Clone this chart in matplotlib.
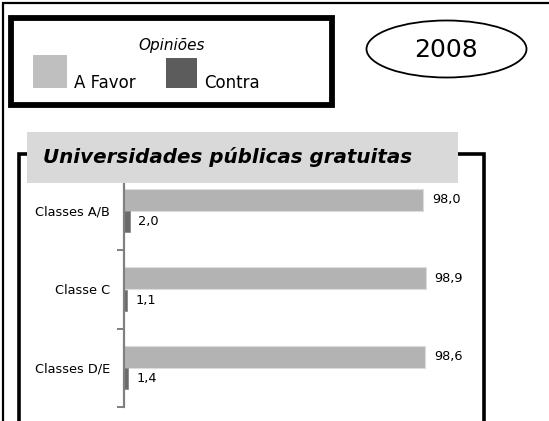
import matplotlib.pyplot as plt
from matplotlib.patches import Rectangle, Ellipse

# data
categories = ['Classes A/B', 'Classe C', 'Classes D/E']
a_favor = [98.0, 98.9, 98.6]
contra = [2.0, 1.1, 1.4]
year = '2008'
title = 'Universidades públicas gratuitas'

W, H = 549, 421
fig = plt.figure(figsize=(W / 100, H / 100), dpi=100)

# overlay in pixel coordinates for the frames / boxes
bg = fig.add_axes([0, 0, 1, 1])
bg.set_xlim(0, W)
bg.set_ylim(H, 0)
bg.axis('off')

# outer frame (left and top)
bg.plot([2.5, 2.5, W + 5], [H + 5, 2.5, 2.5], color='black', lw=1.6,
        solid_joinstyle='miter')

# legend box
bg.add_patch(Rectangle((11, 18), 321, 87, fill=False, ec='black', lw=4.2,
                       joinstyle='miter'))
bg.text(172, 45, 'Opiniões', fontsize=11, style='italic', ha='center', va='center')
bg.add_patch(Rectangle((33, 55), 34, 33, fc='#bfbfbf', ec='none'))
bg.text(74, 88, 'A Favor', fontsize=12, ha='left', va='baseline')
bg.add_patch(Rectangle((166, 58), 31, 30, fc='#5c5c5c', ec='none'))
bg.text(204, 88, 'Contra', fontsize=12, ha='left', va='baseline')

# year ellipse
bg.add_patch(Ellipse((446.5, 49), 160, 57, fill=False, ec='black', lw=1.3))
bg.text(446, 50, year, fontsize=18, ha='center', va='center')

# inner frame
bg.plot([18.5, 18.5, 483.5, 483.5], [H + 5, 154, 154, H + 5], color='black',
        lw=2.6, solid_joinstyle='miter')

# title band
bg.add_patch(Rectangle((27, 132), 431, 50.5, fc='#d9d9d9', ec='none', zorder=3))
bg.text(43, 157, title, fontsize=14.3, weight='bold', style='italic',
        ha='left', va='center', zorder=4)

# bar chart
ax = fig.add_axes([124 / W, 1 - 407 / H, 305 / W, (407 - 171.5) / H])
ax.set_zorder(-1)
y = list(range(len(categories)))
off = 0.14
ax.barh([v - off for v in y], a_favor, height=0.28, color='#b3b3b3',
        edgecolor='#dcdcdc', linewidth=0.8)
ax.barh([v + off for v in y], contra, height=0.27, color='#6b6b6b',
        edgecolor='#8a8a8a', linewidth=0.6)

for i, (f, c) in enumerate(zip(a_favor, contra)):
    ax.annotate(f'{f:.1f}'.replace('.', ','), (f, i - off), xytext=(6.5, 0),
                textcoords='offset points', ha='left', va='center', fontsize=9.3)
    ax.annotate(f'{c:.1f}'.replace('.', ','), (c, i + off), xytext=(6, 0),
                textcoords='offset points', ha='left', va='center', fontsize=9.3)

ax.set_xlim(0, 100)
ax.set_ylim(len(categories) - 0.5, -0.5)
ax.set_yticks(y)
ax.set_yticklabels(categories, fontsize=9.3)
ax.tick_params(axis='y', which='major', length=0, pad=10)
ax.set_yticks([v + 0.5 for v in y], minor=True)
ax.tick_params(axis='y', which='minor', length=5, width=1.4, color='#808080')
ax.set_xticks([])
for s in ['top', 'right', 'bottom']:
    ax.spines[s].set_visible(False)
ax.spines['left'].set_color('#808080')
ax.spines['left'].set_linewidth(1.6)
ax.patch.set_alpha(0)

fig.savefig('out.png', dpi=100)
